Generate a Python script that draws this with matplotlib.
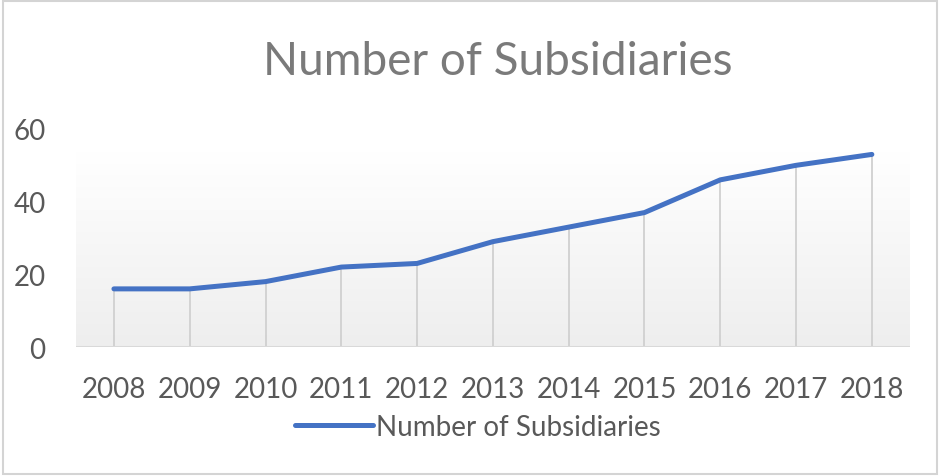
import matplotlib.pyplot as plt
import matplotlib as mpl
import numpy as np
from matplotlib.patches import Rectangle

years = ['2008', '2009', '2010', '2011', '2012', '2013', '2014', '2015', '2016', '2017', '2018']
subsidiaries = [16, 16, 18, 22, 23, 29, 33, 37, 46, 50, 53]
y_ticks = [0, 20, 40, 60]

mpl.rcParams['font.family'] = ['Lato', 'DejaVu Sans']
text_gray = '#595959'
line_blue = '#4472C4'

fig = plt.figure(figsize=(9.41, 4.77), dpi=100)
fig.patch.set_facecolor('white')
fig.patches.append(Rectangle((0.003, 0.004), 0.993, 0.992, transform=fig.transFigure,
                             fill=False, edgecolor='#d4d4d4', linewidth=1.5))

ax = fig.add_axes([0.0808, 0.2704, 0.886, 0.4571])
x = np.arange(len(years))
ax.set_xlim(-0.5, len(years) - 0.5)
ax.set_ylim(0, 60)

# plot area shading: white at the top fading to light gray at the bottom
grad = np.linspace(0, 1, 256).reshape(-1, 1)
cmap = mpl.colors.LinearSegmentedColormap.from_list('fade', ['#ffffff', '#eeeeee'])
ax.imshow(grad, cmap=cmap, aspect='auto', extent=(-0.5, len(years) - 0.5, 0, 53.5),
          origin='upper', zorder=0)

# drop lines from each point down to the axis
ax.vlines(x, 0, subsidiaries, color='#d0d0d0', linewidth=1.3, zorder=1)
ax.axhline(0, color='#d9d9d9', linewidth=1.5, zorder=1)

ax.plot(x, subsidiaries, color=line_blue, linewidth=3.6, solid_capstyle='round',
        solid_joinstyle='round', label='Number of Subsidiaries', zorder=3)

for side in ax.spines.values():
    side.set_visible(False)
ax.set_xticks(x)
ax.set_xticklabels(years)
ax.set_yticks(y_ticks)
ax.tick_params(length=0, labelsize=20, colors=text_gray)
ax.tick_params(axis='x', pad=21)
ax.tick_params(axis='y', pad=22)

fig.text(0.529, 0.870, 'Number of Subsidiaries', ha='center', va='center',
         fontsize=33, color='#7a7a7a')

ax.legend(loc='center', bbox_to_anchor=(0.508, 0.103), bbox_transform=fig.transFigure,
          frameon=False, fontsize=20, labelcolor=text_gray, handlelength=2.8,
          handletextpad=0.1)

fig.savefig('out.png', dpi=100)
